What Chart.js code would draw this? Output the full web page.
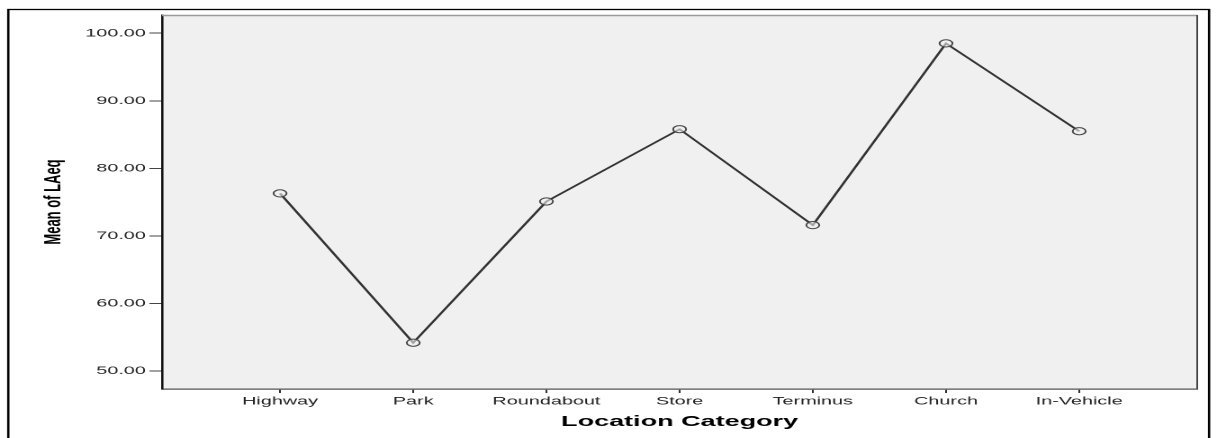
<!DOCTYPE html>
<html><head><meta charset="utf-8">
<script src="https://cdn.jsdelivr.net/npm/chart.js@4"></script>
<style>
html,body{margin:0;padding:0;background:#fff;overflow:hidden}
#wrap{position:absolute;left:0;top:0;width:676px;height:438px;transform:scaleX(1.8003);transform-origin:0 0}
canvas{display:block}
</style></head><body>
<div id="wrap"><canvas id="c" width="676" height="438"></canvas></div>
<script>
const categories = ['Highway', 'Park', 'Roundabout', 'Store', 'Terminus', 'Church', 'In-Vehicle'];
const meanLAeq = [76.3, 54.2, 75.1, 85.8, 71.6, 98.5, 85.5];
const yTicks = [50, 60, 70, 80, 90, 100];
const xTitle = 'Location Category';
const yTitle = 'Mean of LAeq';

const FONT = "'Liberation Sans', Arial, sans-serif";

const frame = {
  id: 'frame',
  beforeDraw(chart) {
    const {ctx, chartArea: a} = chart;
    ctx.save();
    ctx.fillStyle = '#f0f0f0';
    ctx.fillRect(a.left, a.top, a.right - a.left, a.bottom - a.top);
    ctx.restore();
  },
  afterDraw(chart) {
    const {ctx, chartArea: a} = chart;
    ctx.save();
    ctx.lineWidth = 1.5;
    ctx.strokeStyle = '#9a9a9a';
    ctx.beginPath(); ctx.moveTo(a.left, a.top + 0.5); ctx.lineTo(a.right, a.top + 0.5); ctx.stroke();
    ctx.strokeStyle = '#444';
    ctx.lineWidth = 1;
    ctx.beginPath(); ctx.moveTo(a.right, a.top); ctx.lineTo(a.right, a.bottom); ctx.stroke();
    // outer frame
    ctx.strokeStyle = '#000';
    ctx.lineWidth = 1.3;
    ctx.strokeRect(4.6, 9.5, 667, 460);
    ctx.restore();
  }
};

new Chart(document.getElementById('c'), {
  type: 'line',
  data: {
    datasets: [{
      data: categories.map((c, i) => ({x: i, y: meanLAeq[i]})),
      borderColor: '#333',
      borderWidth: 1.5,
      tension: 0,
      pointStyle: 'circle',
      pointRadius: 3.6,
      pointBorderWidth: 1,
      pointBorderColor: '#444',
      pointBackgroundColor: 'rgba(240,240,240,0.6)',
      fill: false
    }]
  },
  options: {
    responsive: false,
    maintainAspectRatio: false,
    animation: false,
    devicePixelRatio: 2,
    layout: {padding: {left: 0, right: 11, top: 15, bottom: 0}},
    plugins: {legend: {display: false}, tooltip: {enabled: false}},
    scales: {
      x: {
        type: 'linear',
        min: -0.886,
        max: 6.886,
        afterBuildTicks: s => { s.ticks = categories.map((c, i) => ({value: i})); },
        afterFit: s => { s.height = 49; },
        ticks: {
          callback: v => categories[v] ?? '',
          autoSkip: false,
          maxRotation: 0,
          padding: 2,
          color: '#222',
          font: {family: FONT, size: 11}
        },
        grid: {drawOnChartArea: false, drawTicks: true, tickLength: 4, color: '#333', lineWidth: 1},
        border: {display: true, color: '#555', width: 1.2},
        title: {
          display: true, text: xTitle, color: '#000',
          font: {family: FONT, size: 15, weight: 'bold'},
          padding: {top: 0, bottom: 7}
        }
      },
      y: {
        min: 47.35,
        max: 102.7,
        afterBuildTicks: s => { s.ticks = yTicks.map(v => ({value: v})); },
        afterFit: s => { s.width = 90; },
        ticks: {
          callback: v => Number(v).toFixed(2),
          padding: 2,
          color: '#222',
          font: {family: FONT, size: 11}
        },
        grid: {drawOnChartArea: false, drawTicks: true, tickLength: 7, color: '#444', lineWidth: 1},
        border: {display: true, color: '#111', width: 1.3},
        title: {
          display: true, text: yTitle, color: '#000',
          font: {family: FONT, size: 13, weight: 'bold'},
          padding: {top: 22, bottom: 0}
        }
      }
    }
  },
  plugins: [frame]
});
</script>
</body></html>
